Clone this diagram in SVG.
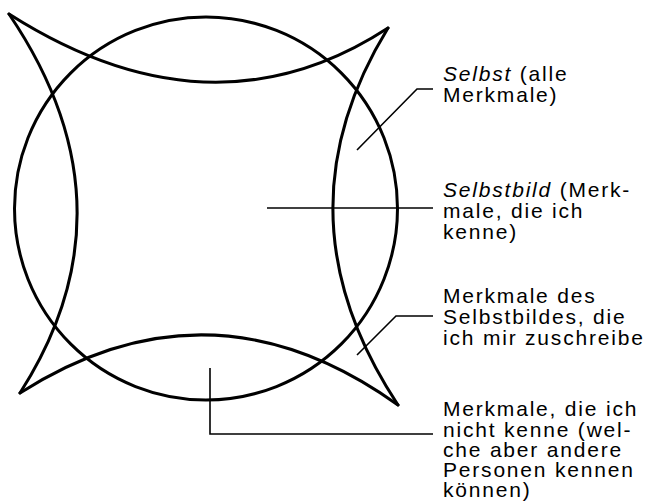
<svg xmlns="http://www.w3.org/2000/svg" width="649" height="501" viewBox="0 0 649 501">
<style>
.thick{fill:none;stroke:#000;stroke-width:3;stroke-linecap:round;stroke-linejoin:round}
.lead{fill:none;stroke:#000;stroke-width:1.6}
text{font-family:"Liberation Sans",Arial,sans-serif;font-size:21px;letter-spacing:1.8px;fill:#000}
.it{font-style:italic}
</style>
<rect width="649" height="501" fill="#fff"/>
<g id="circle">
<circle class="thick" cx="206" cy="208.5" r="191.5"/>
</g>
<g id="star">
<path class="thick" d="M9,14 Q211.5,143 388,28"/>
<path class="thick" d="M9,14 Q139.5,206.5 20,393"/>
<path class="thick" d="M388,28 Q273,215.5 398,405"/>
<path class="thick" d="M20,393 Q211,271 398,405"/>
</g>
<g id="connectors">
<polyline class="lead" points="357,150 417,89 433,89"/>
<polyline class="lead" points="267,208 433,208"/>
<polyline class="lead" points="357,355 396,316 433,316"/>
<polyline class="lead" points="210,368 210,434 433,434"/>
</g>
<g id="label-selbst">
<text x="443" y="81"><tspan class="it">Selbst</tspan> (alle</text>
<text x="443" y="102">Merkmale)</text>
</g>
<g id="label-selbstbild">
<text x="443" y="197"><tspan class="it">Selbstbild</tspan> (Merk-</text>
<text x="443" y="218">male, die ich</text>
<text x="443" y="239">kenne)</text>
</g>
<g id="label-zuschreibe">
<text x="443" y="303">Merkmale des</text>
<text x="443" y="324">Selbstbildes, die</text>
<text x="443" y="345">ich mir zuschreibe</text>
</g>
<g id="label-nichtkenne">
<text x="443" y="416">Merkmale, die ich</text>
<text x="443" y="436.5">nicht kenne (wel-</text>
<text x="443" y="457">che aber andere</text>
<text x="443" y="477">Personen kennen</text>
<text x="443" y="496.5">können)</text>
</g>
</svg>
